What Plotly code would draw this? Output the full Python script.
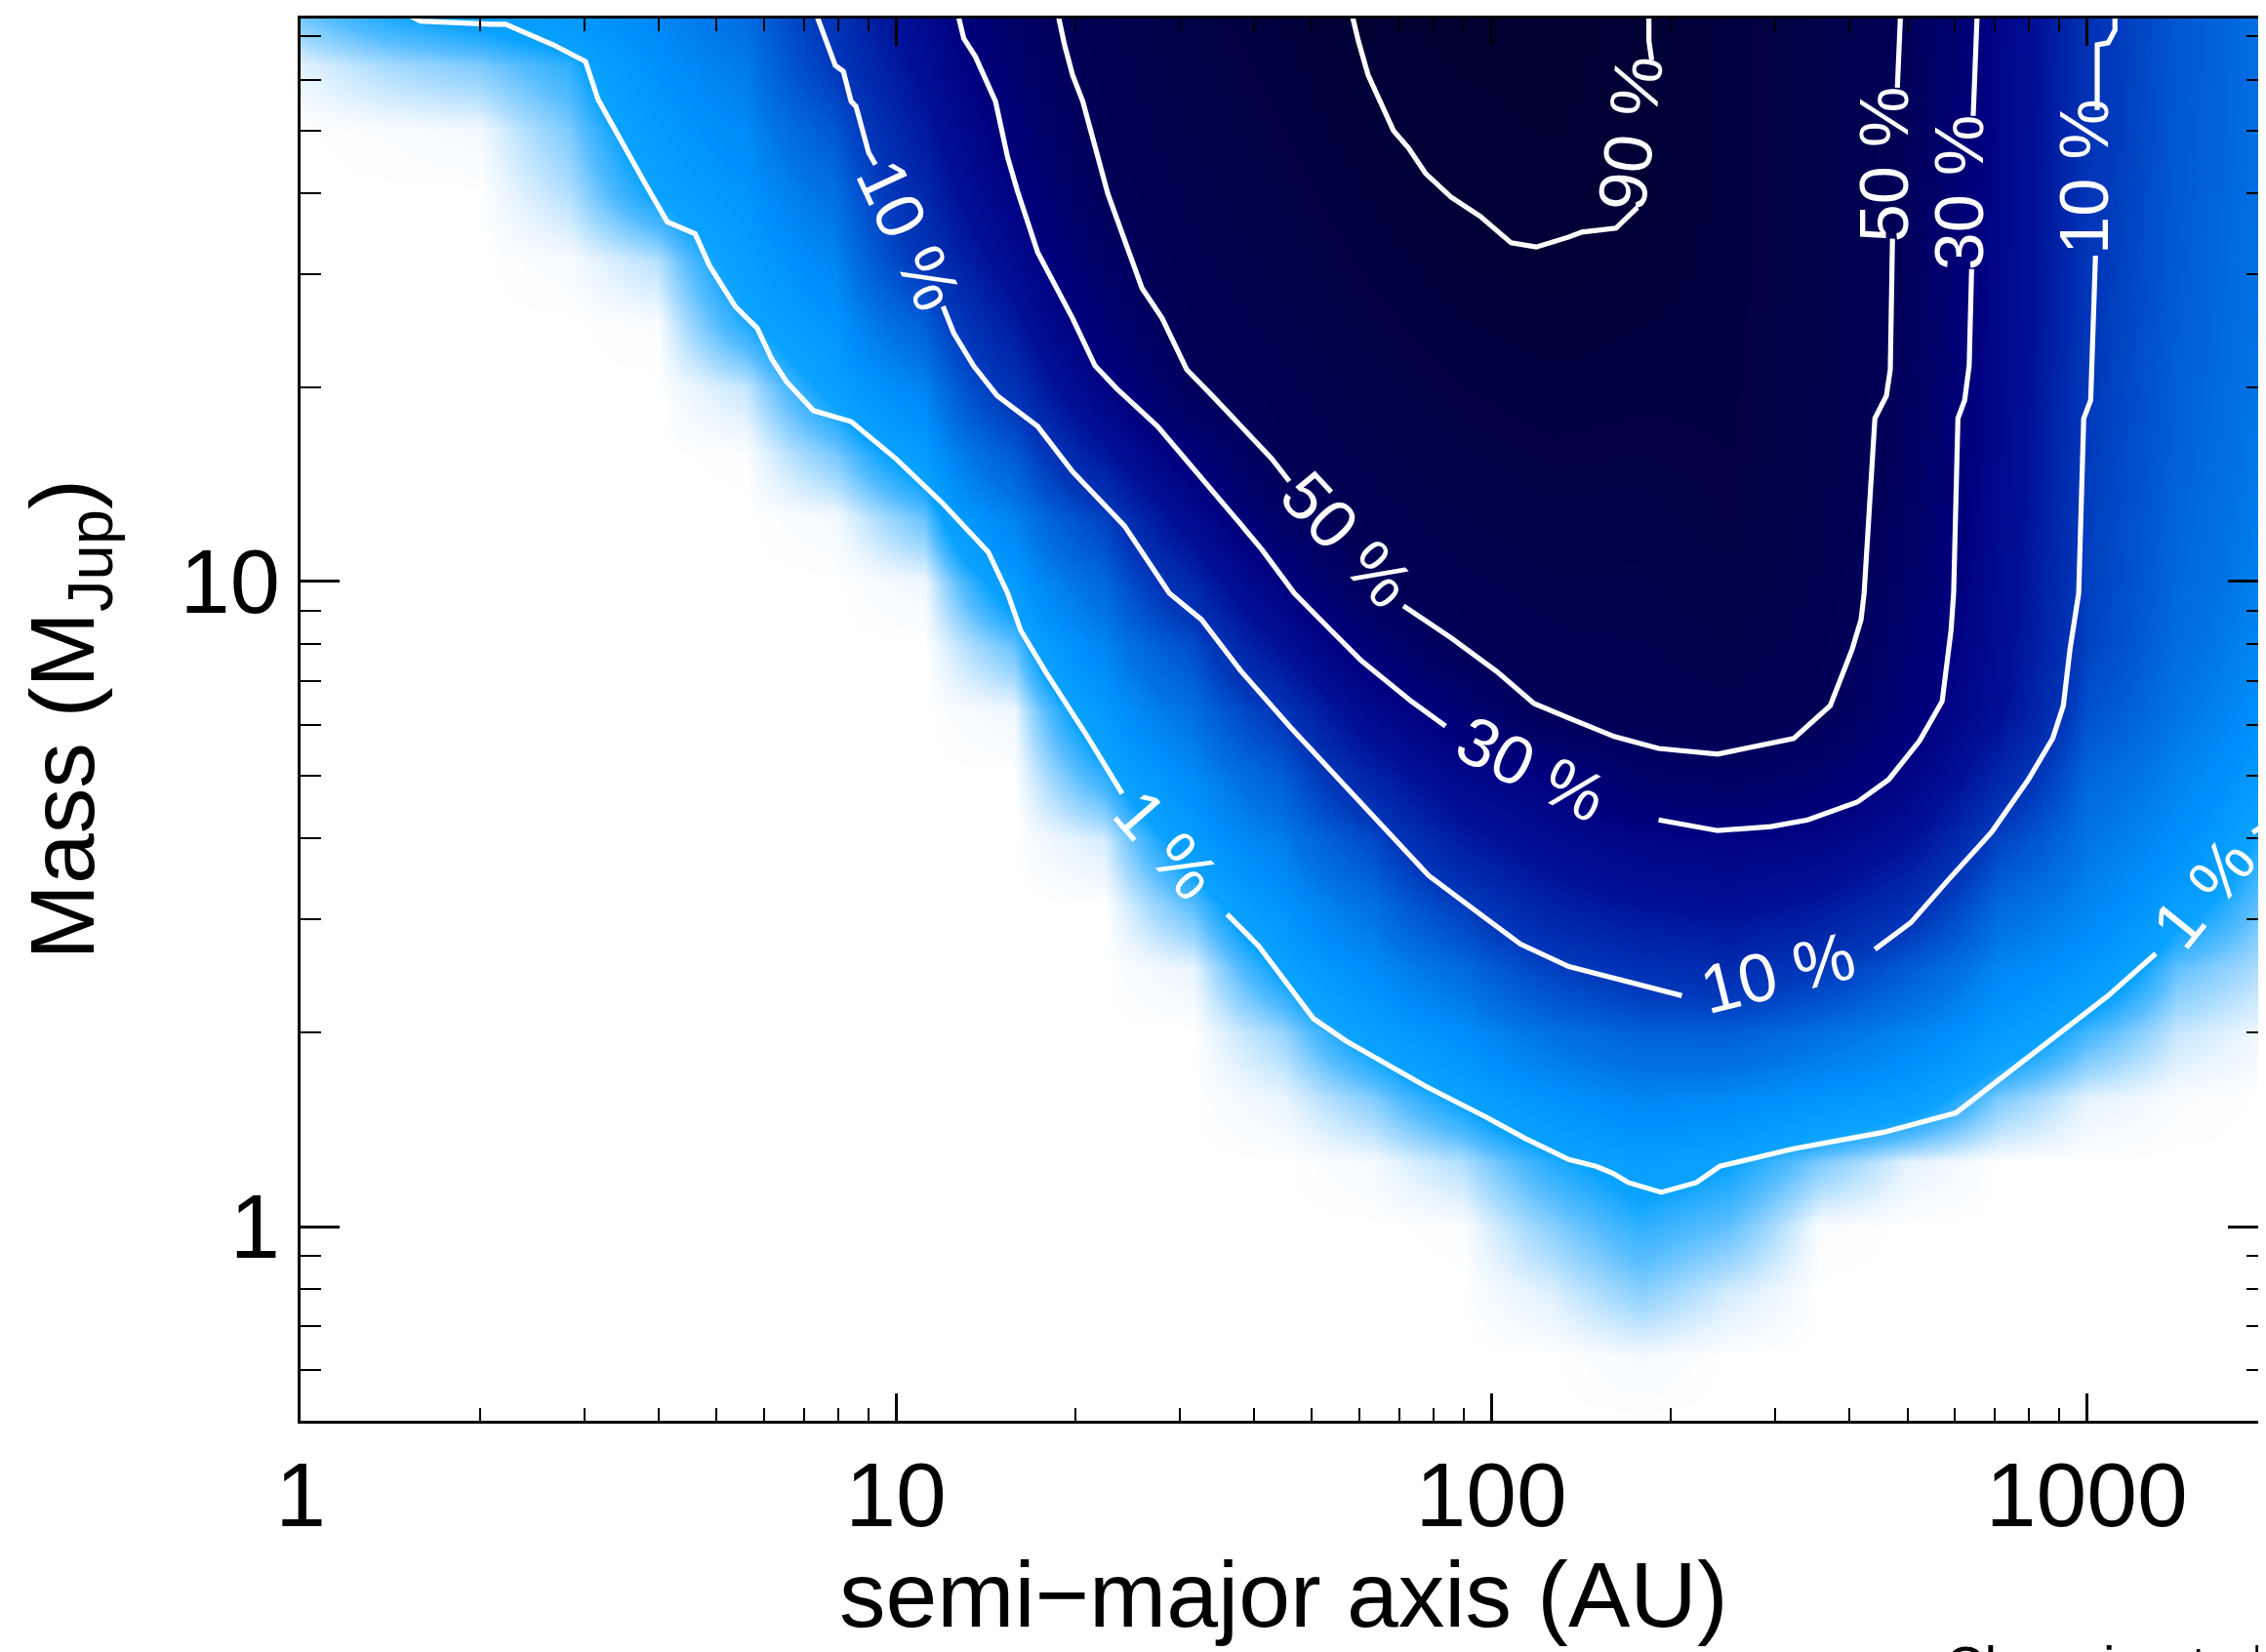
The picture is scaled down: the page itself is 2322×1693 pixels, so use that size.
import numpy as np
import plotly.graph_objects as go

# ---------------- data ----------------
# detection-probability grid (percent); columns = semi-major axis, rows = mass
a_grid = [1, 1.41, 2.0, 2.82, 3.98, 5.62, 7.94, 11.2, 15.8, 22.4, 31.6, 44.7,
          63.1, 89.1, 126, 178, 251, 355, 501, 708, 1000, 1413, 1995]
m_grid = [0.5, 0.63, 0.79, 1.0, 1.26, 1.58, 2.0, 2.51, 3.16, 3.98, 5.01, 6.31,
          7.94, 10.0, 12.6, 15.8, 20.0, 25.1, 31.6, 39.8, 50.1, 63.1, 75.0]

prob = [
    [0]*23,
    [0,0,0,0,0,0,0,0,0,0,0,0,0,0,0,0.04,0,0,0,0,0,0,0],
    [0,0,0,0,0,0,0,0,0,0,0,0,0,0,0.12,0.4,0.15,0,0,0,0,0,0],
    [0,0,0,0,0,0,0,0,0,0,0,0,0,0.01,0.4,0.8,0.55,0.02,0,0,0,0,0],
    [0,0,0,0,0,0,0,0,0,0,0,0,0.04,0.26,0.85,1.31,1.02,0.45,0.1,0,0,0,0],
    [0,0,0,0,0,0,0,0,0,0,0,0.08,0.42,1.08,1.92,2.74,2.45,1.85,1.38,0.45,0.1,0.02,0],
    [0,0,0,0,0,0,0,0,0,0,0,0.35,1.25,2.23,4.14,5.74,5.9,4.3,2.9,1.54,0.7,0.2,0.05],
    [0,0,0,0,0,0,0,0,0,0,0.08,1.09,2.31,4.62,8.91,11.9,13.1,10.0,6.05,2.74,1.7,0.55,0.25],
    [0,0,0,0,0,0,0,0,0,0,0.6,1.93,4.28,9.57,16.0,19.4,21.0,18.4,12.4,4.9,2.85,1.3,0.5],
    [0,0,0,0,0,0,0,0,0,0.15,1.4,3.42,7.91,17.3,23.0,27.0,28.8,26.9,20.1,8.75,3.9,2.2,0.8],
    [0,0,0,0,0,0,0,0,0,0.82,2.47,6.05,15.5,25.0,30.0,40.7,44.0,38.2,27.7,14.7,5.2,3.0,1.45],
    [0,0,0,0,0,0,0,0,0.06,1.6,4.34,11.1,24.3,35.2,50.0,52.2,55.0,50.5,33.0,20.9,7.3,3.9,2.0],
    [0,0,0,0,0,0,0,0,0.54,2.84,7.63,20.5,34.8,50.0,55.5,56.8,62.0,54.0,36.5,22.0,8.8,4.6,2.6],
    [0,0,0,0,0,0,0,0.06,1.47,5.05,14.6,29.9,48.0,55.8,61.0,61.4,67.0,57.0,40.0,23.0,9.2,5.0,3.0],
    [0,0,0,0,0,0,0.04,0.55,3.02,8.97,23.5,41.9,54.5,61.7,66.6,66.0,71.0,59.5,42.5,23.8,9.4,5.3,3.2],
    [0,0,0,0,0,0.01,0.48,1.46,6.18,18.1,33.6,51.4,59.8,67.5,72.1,70.7,73.5,61.0,44.5,24.4,9.7,5.6,3.4],
    [0,0,0,0,0,0.2,1.22,2.9,11.9,28.0,47.6,55.7,65.1,73.4,77.6,75.3,75.0,61.8,45.5,25.0,10.1,5.8,3.6],
    [0,0,0,0,0.02,0.89,1.86,5.77,17.5,35.3,52.8,60.1,70.4,79.2,83.1,79.9,76.0,62.2,45.9,25.4,10.4,6.0,3.8],
    [0,0,0,0.03,0.25,1.34,2.85,10.7,23.2,42.0,56.1,64.4,75.7,85.0,88.6,84.5,76.5,62.4,46.3,25.7,10.7,6.2,3.9],
    [0,0,0,0.25,1.05,1.85,4.36,14.3,28.9,48.6,59.4,68.7,80.9,90.2,91.5,89.8,76.8,62.6,46.8,26.0,10.9,6.3,4.0],
    [0,0.02,0.05,0.45,1.48,2.56,6.67,17.8,33.6,52.0,62.7,73.0,86.2,91.6,93.0,90.5,77.0,62.7,47.3,26.2,11.1,6.4,4.1],
    [0.1,0.3,0.45,0.8,2.09,3.53,10.2,21.3,38.1,54.4,66.0,77.4,90.8,93.0,94.0,90.8,77.0,62.8,47.7,26.4,11.3,6.5,4.2],
    [0.5,0.9,1.2,1.6,2.7,4.5,11.5,24.0,41.5,56.3,68.5,80.6,92.0,94.0,95.0,91.0,77.0,62.8,48.0,26.5,11.5,6.5,4.2],
]

# contour lines (semi-major axis in AU, mass in MJup); segments break at labels
c1_a = [[1.50, 1.55, 1.59, 2.10, 2.21, 2.66, 3.01, 3.16, 3.51, 3.79, 4.13, 4.60, 4.86, 5.37,
         5.85, 6.19, 6.55, 7.27, 8.41, 10.0, 12.0, 14.3, 15.4, 16.2, 17.9, 20.9, 24.0],
        [36.0, 40.7, 50.3, 57.0, 77.6, 97.8, 114, 135, 150, 160, 170, 193, 221, 233, 242,
         322, 456, 603, 899, 1087, 1307],
        [1901, 2011]]
c1_m = [[76, 74.6, 73.9, 73.1, 73.1, 67.9, 64.0, 55.9, 46.8, 41.4, 36.1, 34.6, 30.9, 26.7,
         24.7, 22.1, 20.4, 18.4, 17.7, 15.5, 13.2, 11.1, 9.6, 8.4, 7.21, 5.78, 4.69],
        [3.05, 2.72, 2.10, 1.94, 1.65, 1.48, 1.37, 1.27, 1.24, 1.21, 1.17, 1.13, 1.17, 1.21, 1.24,
         1.32, 1.40, 1.50, 1.99, 2.28, 2.65],
        [4.08, 4.23]]

c10_a = [[7.34, 7.91, 8.16, 8.41, 8.57, 9.0, 9.24],
         [12.0, 12.5, 13.5, 14.8, 17.3, 19.8, 24.2, 28.8, 32.6, 38.0, 46.1, 54.8, 65.3, 78.5,
          90.6, 112, 135, 161, 209],
         [441, 507, 583, 693, 798, 877, 914, 938, 970, 989, 1016, 1035],
         [1042, 1042, 1087, 1116, 1116]]
c10_m = [[76, 63.1, 61.8, 55.5, 54.5, 46.2, 44.3],
         [26.7, 24.3, 21.6, 19.4, 17.4, 14.8, 12.2, 9.59, 8.73, 7.26, 5.93, 4.98, 4.20, 3.50,
          3.17, 2.74, 2.53, 2.43, 2.28],
         [2.69, 2.96, 3.43, 4.09, 4.93, 5.71, 6.42, 7.86, 9.59, 17.9, 19.1, 32.0],
         [53.8, 67.9, 68.4, 71.6, 76]]

c30_a = [[12.7, 13.0, 13.6, 14.7, 15.4, 16.0, 17.3, 19.8, 21.6, 23.5, 27.5, 32.6, 37.3, 41.2,
          46.7, 53.8, 60.5, 73.4, 83.8],
         [191, 240, 295, 340, 412, 465, 524, 572, 592, 598, 608, 624, 635, 641],
         [645, 653, 655]]
c30_m = [[76, 69.5, 65.1, 55.5, 45.5, 40.3, 32.4, 25.6, 21.6, 19.9, 17.4, 14.5, 12.5, 11.2,
          9.59, 8.40, 7.54, 6.52, 5.97],
         [4.27, 4.11, 4.17, 4.27, 4.55, 4.93, 5.66, 6.52, 8.40, 9.59, 17.9, 19.1, 21.6, 30.5],
         [52.7, 67.9, 76]]

c50_a = [[18.7, 19.2, 19.8, 20.6, 22.7, 24.5, 25.9, 28.0, 30.8, 34.0, 38.0, 42.8, 45.8],
         [71.2, 85.7, 102, 118, 135, 161, 191, 240, 322, 371, 404, 418, 423, 441, 461, 468, 472],
         [481, 484, 487]]
c50_m = [[76, 67.9, 61.0, 55.5, 39.9, 32.6, 28.5, 25.6, 21.3, 19.4, 17.4, 15.5, 14.3],
         [9.17, 8.17, 7.26, 6.47, 6.14, 5.75, 5.51, 5.40, 5.71, 6.42, 7.86, 8.73, 9.59, 17.9,
          19.4, 21.3, 34.0],
         [58.3, 69.6, 76]]

c90_a = [[58.3, 59.8, 62.1, 65.3, 68.5, 72.6, 77.6, 85.7, 95.9, 108, 119, 135, 142, 162, 172, 176],
         [186, 184, 184]]
c90_m = [[76, 68.9, 61.0, 55.1, 50.0, 47.0, 42.9, 39.4, 36.8, 33.5, 33.0, 34.2, 34.8, 35.3, 37.4, 38.0],
         [64.3, 68.9, 76]]

# contour labels
label_text = ["1 %", "1 %", "10 %", "10 %", "10 %", "30 %", "30 %", "50 %", "50 %", "90 %"]
label_a = [28.5, 1574, 10.5, 303, 989, 117, 612, 57.2, 458, 171.5]
label_m = [3.91, 3.29, 34.4, 2.47, 42.5, 5.13, 40.1, 11.6, 44.4, 49.6]
label_angle = [49, -51, 65, -14, -90, 26, -90, 47, -90, -83]

# axes
x_tick_vals = [1, 10, 100, 1000]
x_tick_text = ["1", "10", "100", "1000"]
y_tick_vals = [1, 10]
y_tick_text = ["1", "10"]
x_minor_vals = [k * 10 ** e for e in range(0, 4) for k in range(2, 10)]
y_minor_vals = [k * 10 ** e for e in range(-1, 2) for k in range(2, 10)]

# ---------------- figure ----------------
W, H = 2322, 1693
ML, MR, MT, MB = 300, 7, 11, 245
FONT = "Liberation Sans, Arial, Helvetica, sans-serif"

colorscale = [
    [0.0, "rgb(255,255,255)"],
    [0.001, "rgb(228,243,255)"],
    [0.003, "rgb(165,218,255)"],
    [0.006, "rgb(85,188,255)"],
    [0.01, "rgb(10,162,255)"],
    [0.02, "rgb(0,146,252)"],
    [0.04, "rgb(0,114,230)"],
    [0.07, "rgb(0,82,207)"],
    [0.10, "rgb(0,56,186)"],
    [0.20, "rgb(0,16,150)"],
    [0.30, "rgb(0,0,126)"],
    [0.50, "rgb(0,0,86)"],
    [0.70, "rgb(0,0,68)"],
    [0.90, "rgb(0,0,54)"],
    [1.0, "rgb(0,0,45)"],
]

fig = go.Figure()
fig.add_trace(go.Heatmap(x=a_grid, y=m_grid, z=prob, zmin=0, zmax=100,
                         colorscale=colorscale, zsmooth="best",
                         showscale=False, hoverinfo="skip"))


def joined(segs):
    out = []
    for i, s in enumerate(segs):
        if i:
            out.append(None)
        out.extend(s)
    return out


for xs, ys in [(c1_a, c1_m), (c10_a, c10_m), (c30_a, c30_m), (c50_a, c50_m), (c90_a, c90_m)]:
    fig.add_trace(go.Scatter(x=joined(xs), y=joined(ys), mode="lines",
                             line=dict(color="#ffffff", width=5.2),
                             connectgaps=False, hoverinfo="skip", showlegend=False))

annotations = []
for t, a, m, ang in zip(label_text, label_a, label_m, label_angle):
    annotations.append(dict(x=np.log10(a), y=np.log10(m), xref="x", yref="y",
                            text=t, textangle=ang, showarrow=False,
                            font=dict(family=FONT, size=70, color="white"),
                            xanchor="center", yanchor="middle"))

plot_h = H - MT - MB
def py2paper(py):
    return (H - MB - py) / plot_h
def px2paper(px):
    return (px - ML) / (W - ML - MR)

annotations.append(dict(x=0.5, y=py2paper(1626), xref="paper", yref="paper",
                        text="semi−major axis (AU)", showarrow=False,
                        font=dict(family=FONT, size=95, color="black"),
                        xanchor="center", yanchor="middle"))
annotations.append(dict(x=px2paper(1), y=0.5, xref="paper", yref="paper",
                        text="Mass (M<sub>Jup</sub>)", showarrow=False, textangle=-90,
                        font=dict(family=FONT, size=93, color="black"),
                        xanchor="left", yanchor="middle"))
annotations.append(dict(x=px2paper(1984), y=py2paper(1666), xref="paper", yref="paper",
                        text="Chauvin et al. 2015", showarrow=False, borderpad=0,
                        font=dict(family=FONT, size=56, color="black"),
                        xanchor="left", yanchor="top"))

fig.update_layout(width=W, height=H,
                  margin=dict(l=ML, r=MR, t=MT, b=MB, autoexpand=False),
                  paper_bgcolor="white", plot_bgcolor="white",
                  font=dict(family=FONT, color="black"),
                  showlegend=False, annotations=annotations)

fig.update_xaxes(type="log", range=[0, 3.303], tickmode="array",
                 tickvals=x_tick_vals, ticktext=x_tick_text,
                 ticks="inside", ticklen=28, tickwidth=2.5, tickcolor="black",
                 minor=dict(tickmode="array", tickvals=x_minor_vals, ticks="inside",
                            ticklen=13, tickwidth=2.2, tickcolor="black", showgrid=False),
                 mirror="allticks", showline=True, linewidth=2.5, linecolor="black",
                 showgrid=False, zeroline=False, tickfont=dict(size=93, family=FONT),
                 ticklabelstandoff=-6)
fig.update_yaxes(type="log", range=[np.log10(0.5), np.log10(74.6)], tickmode="array",
                 tickvals=y_tick_vals, ticktext=y_tick_text,
                 ticks="inside", ticklen=40, tickwidth=2.5, tickcolor="black",
                 minor=dict(tickmode="array", tickvals=y_minor_vals, ticks="inside",
                            ticklen=21, tickwidth=2.2, tickcolor="black", showgrid=False),
                 mirror="allticks", showline=True, linewidth=2.5, linecolor="black",
                 showgrid=False, zeroline=False, tickfont=dict(size=92, family=FONT),
                 ticklabelstandoff=0)

fig.write_html("out.html")
